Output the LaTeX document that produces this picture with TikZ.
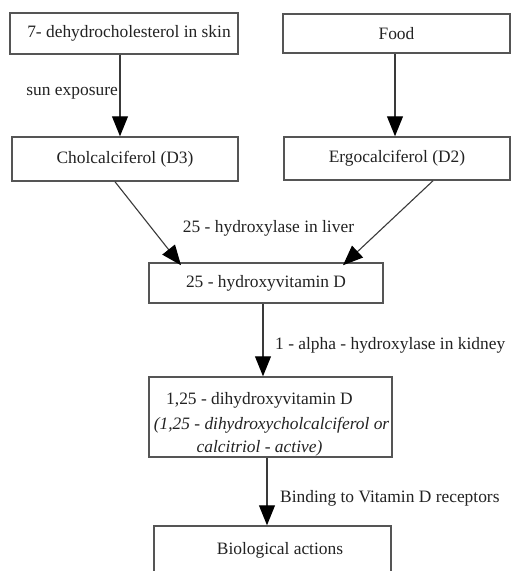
\documentclass[tikz,border=0pt]{standalone}
\usepackage{fontspec}
\setmainfont{Liberation Serif}
\usetikzlibrary{arrows.meta}
\definecolor{boxgray}{HTML}{555555}
\definecolor{linegray}{HTML}{3A3A3A}
\definecolor{txt}{HTML}{222222}
\begin{document}
\begin{tikzpicture}[x=1pt,y=-1pt,
  box/.style={draw=boxgray, line width=1.5pt, inner sep=0pt, text=txt,
    font=\fontsize{17.4pt}{21pt}\selectfont},
  lbl/.style={inner sep=0pt, text=txt, font=\fontsize{17.4pt}{21pt}\selectfont},
  arr/.style={draw=linegray, line width=1.1pt, -{Triangle[length=20pt,width=16pt,color=black]}}]
\useasboundingbox (0,0) rectangle (511,571);
\clip (0,0) rectangle (511,571);
\fill[white] (0,0) rectangle (511,571);
% boxes
\node[box, minimum width=228pt, minimum height=41pt] (dehy) at (124,33.5) {\hspace{10pt}7- dehydrocholesterol in skin};
\node[box, minimum width=227pt, minimum height=39pt] (food) at (396.5,33.5) {Food};
\node[box, minimum width=226pt, minimum height=44pt] (chol) at (125,159) {Cholcalciferol (D3)\hspace{10pt}};
\node[box, minimum width=226pt, minimum height=43pt] (erg) at (397,158.5) {Ergocalciferol (D2)};
\node[box, minimum width=234pt, minimum height=40pt] (hyd) at (266,283) {25 - hydroxyvitamin D};
\node[box, minimum width=243pt, minimum height=80pt] (act) at (270.5,417) {};
\node[lbl] (act1) at (259.5,400) {1,25 - dihydroxyvitamin D};
\node[lbl] (act2) at (271.5,425) {\itshape (1,25 - dihydroxycholcalciferol or};
\node[lbl] (act3) at (259.5,448) {\itshape calcitriol - active)};
\node[box, minimum width=237pt, minimum height=60pt] (bio) at (272.5,556) {};
\node[lbl] (biot) at (280,550) {Biological actions};
% labels
\node[lbl, anchor=east] (sun) at (118,93) {sun exposure};
\node[lbl] (liver) at (268.5,228) {25 - hydroxylase in liver};
\node[lbl, anchor=west] (kid) at (275,345) {1 - alpha - hydroxylase in kidney};
\node[lbl, anchor=west] (bind) at (280,498) {Binding to Vitamin D receptors};
% arrows
\draw[arr] ([xshift=-4pt]dehy.south) -- ([xshift=-4pt]dehy.south |- chol.north);
\draw[arr] ([xshift=-1.5pt]food.south) -- ([xshift=-1.5pt]food.south |- erg.north);
\draw[arr] ([xshift=-10pt]chol.south) -- ([xshift=-85pt,yshift=-3pt]hyd.north);
\draw[arr] ([xshift=36pt]erg.south) -- ([xshift=77pt,yshift=-3pt]hyd.north);
\draw[arr] ([xshift=-3pt]hyd.south) -- ([xshift=-3pt]hyd.south |- act.north);
\draw[arr] ([xshift=-3.5pt]act.south) -- ([xshift=-3.5pt]act.south |- bio.north);
\end{tikzpicture}
\end{document}
